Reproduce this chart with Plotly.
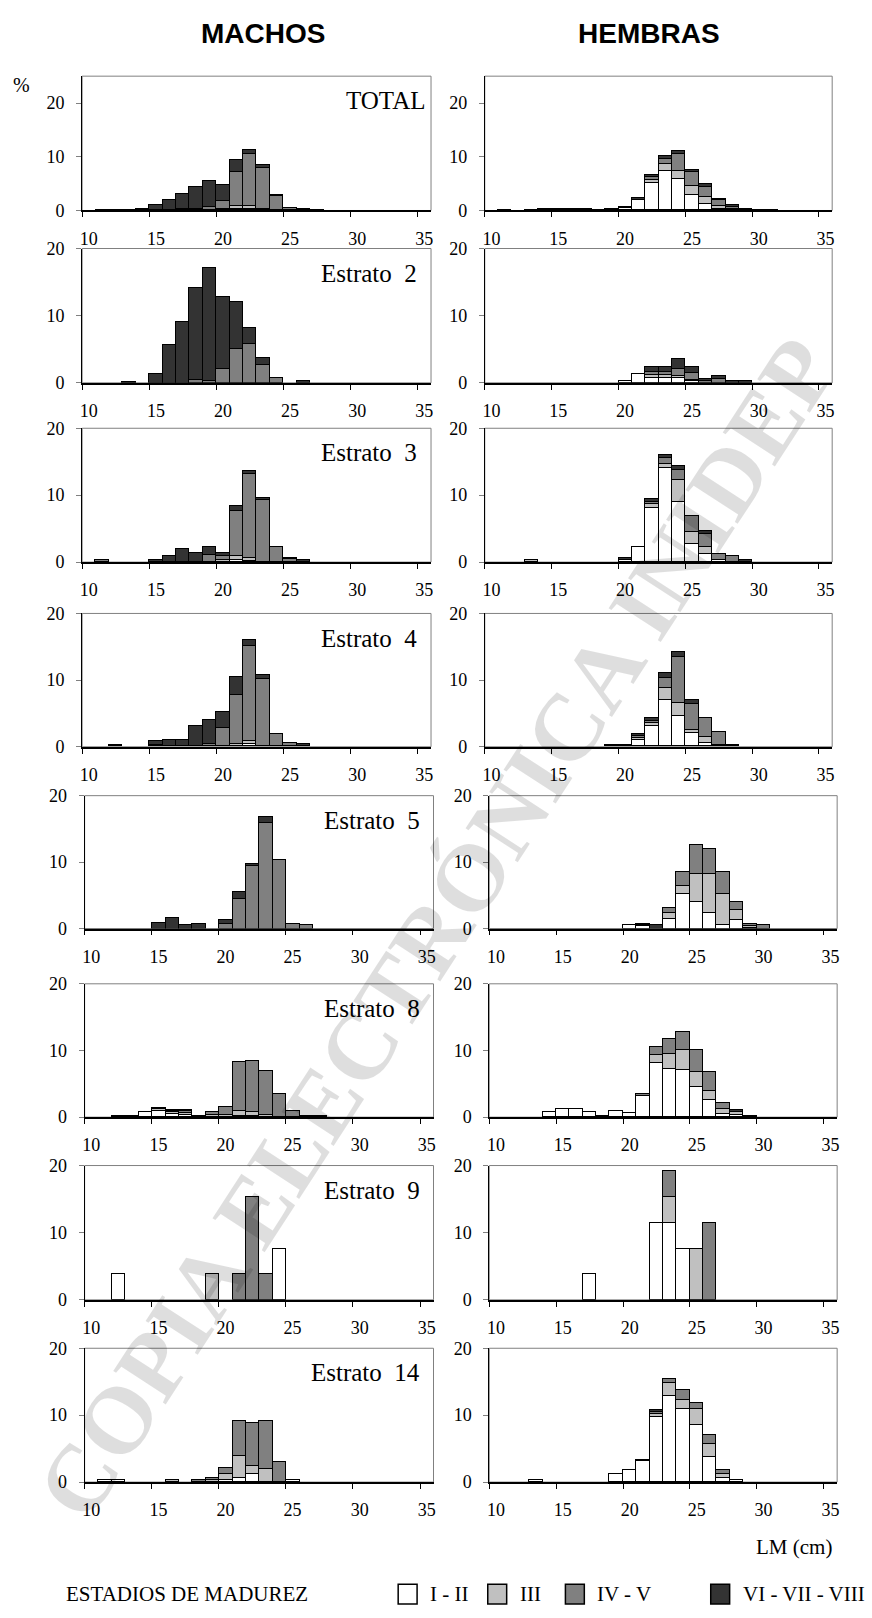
import plotly.graph_objects as go

# ---------------- data ----------------
LM = list(range(10, 36))                      # length classes (cm)
X_TICKS = [10, 15, 20, 25, 30, 35]
X_TICK_MARKS = [9.5, 14.5, 19.5, 24.5, 29.5, 34.5]
Y_TICKS = [0, 10, 20]
STAGES = ["I - II", "III", "IV - V", "VI - VII - VIII"]
COLORS = ["#ffffff", "#c0c0c0", "#808080", "#333333"]
PANEL_LABELS = ["TOTAL", "Estrato\u00a0\u00a02", "Estrato\u00a0\u00a03", "Estrato\u00a0\u00a04",
                "Estrato\u00a0\u00a05", "Estrato\u00a0\u00a08", "Estrato\u00a0\u00a09", "Estrato\u00a0\u00a014"]
Y_MAX = [25, 20, 20, 20, 20, 20, 20, 20]
WATERMARK = "COPIA ELECTRÓNICA INIDEP"

# each panel: [I-II, III, IV-V, VI-VII-VIII], values for LM 10..35
M_TOTAL = [
    [0,0,0,0,0, 0,0,0,0,0, 0.1,0.3,0.3,0.1,0, 0,0,0,0,0, 0,0,0,0,0,0],
    [0,0,0,0,0, 0,0,0,0,0.1, 0.2,0.5,0.5,0.2,0, 0,0,0,0,0, 0,0,0,0,0,0],
    [0,0,0,0,0, 0,0,0.2,0.3,0.5, 1.5,6.3,9.6,7.6,2.7, 0.4,0.2,0,0,0, 0,0,0,0,0,0],
    [0,0.1,0.1,0.1,0.3, 0.9,2.0,2.8,4.0,4.8, 2.9,2.3,0.8,0.6,0.1, 0.1,0.1,0.15,0,0, 0,0,0,0,0,0],
]
F_TOTAL = [
    [0,0,0,0,0.25, 0.25,0.25,0.25,0,0.3, 0.45,1.9,5.06,7.3,5.9, 2.85,1.2,0.3,0.1,0, 0,0,0,0,0,0],
    [0,0.1,0,0,0, 0,0,0,0,0, 0,0,0.55,1.4,1.5, 1.65,1.2,0.5,0.2,0, 0,0,0,0,0,0],
    [0,0,0,0,0, 0,0,0,0,0, 0,0,0.5,0.9,3.0, 2.6,2.0,1.1,0.4,0.1, 0.1,0.1,0,0,0,0],
    [0,0,0,0.15,0, 0,0,0,0.15,0, 0.1,0.4,0.5,0.5,0.65, 0.35,0.5,0.25,0.3,0.2, 0,0,0,0,0,0],
]
M_E2 = [
    [0]*26,
    [0,0,0,0.25,0, 0,0,0,0,0, 0,0,0,0,0, 0,0,0,0,0, 0,0,0,0,0,0],
    [0,0,0,0,0, 0,0,0,0.5,0.3, 2.2,5.05,5.8,2.7,0.85, 0,0,0,0,0, 0,0,0,0,0,0],
    [0,0,0,0,0, 1.4,5.65,9.15,13.7,16.9, 10.7,7.05,2.5,1.1,0, 0,0.3,0,0,0, 0,0,0,0,0,0],
]
F_E2 = [
    [0,0,0,0,0, 0,0,0,0,0, 0.3,1.4,0.85,0.8,0.85, 0.35,0,0,0,0, 0,0,0,0,0,0],
    [0,0,0,0,0, 0,0,0,0,0, 0,0,0.45,0.5,0.3, 0.2,0,0,0,0, 0,0,0,0,0,0],
    [0,0,0,0,0, 0,0,0,0,0, 0,0,0.4,0.4,1.0, 1.05,0.3,0.7,0,0, 0,0,0,0,0,0],
    [0,0,0,0,0, 0,0,0,0,0, 0,0,0.8,0.8,1.45, 0.9,0.3,0.4,0.35,0.35, 0,0,0,0,0,0],
]
M_E3 = [
    [0,0,0,0,0, 0,0,0,0,0, 0,0.2,0.15,0,0, 0,0,0,0,0, 0,0,0,0,0,0],
    [0,0,0,0,0, 0,0,0,0,0, 0.2,0.6,0.4,0,0, 0,0,0,0,0, 0,0,0,0,0,0],
    [0,0.25,0,0,0, 0,0,0,0,1.05, 0.6,6.85,12.65,9.3,2.15, 0.4,0,0,0,0, 0,0,0,0,0,0],
    [0,0,0,0,0, 0.25,0.9,1.9,1.35,1.15, 0.55,0.65,0.4,0.3,0, 0.15,0.25,0,0,0, 0,0,0,0,0,0],
]
F_E3 = [
    [0,0,0,0,0, 0,0,0,0,0, 0.25,2.2,8.0,13.95,9.0, 2.67,1.1,0.2,0,0, 0,0,0,0,0,0],
    [0,0,0,0.25,0, 0,0,0,0,0, 0,0,0.6,0.65,3.3, 1.78,1.1,0,0,0, 0,0,0,0,0,0],
    [0,0,0,0,0, 0,0,0,0,0, 0,0,0.4,0.95,1.46, 2.45,2.0,1.0,0.9,0, 0,0,0,0,0,0],
    [0,0,0,0,0, 0,0,0,0,0, 0.35,0,0.4,0.45,0.59, 0,0.35,0,0,0.25, 0,0,0,0,0,0],
]
M_E4 = [
    [0,0,0,0,0, 0,0,0,0,0, 0,0,0.3,0,0, 0,0,0,0,0, 0,0,0,0,0,0],
    [0,0,0.25,0,0, 0,0,0,0,0, 0,0.3,0.5,0,0, 0,0,0,0,0, 0,0,0,0,0,0],
    [0,0,0,0,0, 0.25,0,0,0,0.3, 2.7,7.4,14.3,10.1,1.9, 0.55,0,0,0,0, 0,0,0,0,0,0],
    [0,0,0,0,0, 0.5,1.0,1.0,3.1,3.7, 2.4,2.7,0.9,0.6,0, 0,0.3,0,0,0, 0,0,0,0,0,0],
]
F_E4 = [
    [0,0,0,0,0, 0,0,0,0,0, 0,1.0,3.1,7.0,4.6, 2.0,0.5,0.2,0,0, 0,0,0,0,0,0],
    [0,0,0,0,0, 0,0,0,0,0.25, 0.25,0.25,0.4,1.75,1.9, 0.45,0.9,0,0,0, 0,0,0,0,0,0],
    [0,0,0,0,0, 0,0,0,0,0, 0,0.25,0.3,1.55,6.95, 3.9,2.9,1.9,0.25,0, 0,0,0,0,0,0],
    [0,0,0,0,0, 0,0,0,0,0, 0,0.4,0.5,0.7,0.75, 0.65,0,0,0,0, 0,0,0,0,0,0],
]
M_E5 = [
    [0]*26,
    [0]*26,
    [0,0,0,0,0, 0,0,0,0,0, 0.7,4.5,9.4,16.0,10.4, 0.8,0.55,0,0,0, 0,0,0,0,0,0],
    [0,0,0,0,0, 0.85,1.65,0.55,0.8,0, 0.65,1.1,0.3,0.9,0, 0,0,0,0,0, 0,0,0,0,0,0],
]
F_E5 = [
    [0,0,0,0,0, 0,0,0,0,0, 0.55,0.5,0,1.55,5.3, 4.0,2.35,0.65,1.4,0.2, 0,0,0,0,0,0],
    [0,0,0,0,0, 0,0,0,0,0, 0,0.1,0,0.8,1.15, 4.3,5.95,4.65,1.5,0.2, 0,0,0,0,0,0],
    [0,0,0,0,0, 0,0,0,0,0, 0,0.2,0,0.85,2.15, 4.35,3.75,3.3,1.1,0.4, 0.55,0,0,0,0,0],
    [0,0,0,0,0, 0,0,0,0,0, 0,0,0.55,0,0, 0,0,0,0,0, 0,0,0,0,0,0],
]
M_E8 = [
    [0,0,0.25,0.25,0.85, 1.0,0.5,0.4,0,0, 0,0.2,0.2,0,0, 0,0,0,0,0, 0,0,0,0,0,0],
    [0,0,0,0,0, 0.2,0.3,0.3,0.25,0.3, 0.3,0.8,0.55,0.3,0, 0,0,0,0,0, 0,0,0,0,0,0],
    [0,0,0,0,0, 0,0.1,0.2,0,0.5, 1.3,7.25,7.75,6.6,3.5, 1.0,0.25,0,0,0, 0,0,0,0,0,0],
    [0,0,0,0,0, 0.15,0.2,0.2,0,0, 0,0,0,0,0, 0,0,0.25,0,0, 0,0,0,0,0,0],
]
F_E8 = [
    [0,0,0,0,0.8, 1.25,1.25,0.8,0.25,1.0, 0.6,3.15,8.15,7.25,7.15, 4.55,2.6,0.5,0.3,0, 0,0,0,0,0,0],
    [0,0,0,0,0, 0,0,0,0,0, 0,0,1.15,2.25,3.0, 2.3,1.35,0.75,0.45,0, 0,0,0,0,0,0],
    [0,0,0,0,0, 0,0,0,0,0, 0,0.3,1.25,2.3,2.65, 3.3,2.9,0.9,0,0, 0,0,0,0,0,0],
    [0,0,0,0,0, 0,0,0,0,0, 0,0,0,0,0, 0,0,0,0.35,0.25, 0,0,0,0,0,0],
]
M_E9 = [
    [0,0,3.85,0,0, 0,0,0,0,0, 0,0,0,0,7.7, 0,0,0,0,0, 0,0,0,0,0,0],
    [0,0,0,0,0, 0,0,0,0,3.85, 0,0,0,0,0, 0,0,0,0,0, 0,0,0,0,0,0],
    [0,0,0,0,0, 0,0,0,0,0, 0,3.85,15.4,3.85,0, 0,0,0,0,0, 0,0,0,0,0,0],
    [0]*26,
]
F_E9 = [
    [0,0,0,0,0, 0,0,3.85,0,0, 0,0,11.55,11.55,7.7, 0,0,0,0,0, 0,0,0,0,0,0],
    [0,0,0,0,0, 0,0,0,0,0, 0,0,0,3.85,0, 7.7,0,0,0,0, 0,0,0,0,0,0],
    [0,0,0,0,0, 0,0,0,0,0, 0,0,0,3.85,0, 0,11.55,0,0,0, 0,0,0,0,0,0],
    [0]*26,
]
M_E14 = [
    [0,0.3,0.3,0,0, 0,0,0,0,0, 0.3,0.6,1.1,0,0, 0.3,0,0,0,0, 0,0,0,0,0,0],
    [0,0,0,0,0, 0,0.3,0,0,0.3, 0.8,3.2,1.3,1.95,0, 0,0,0,0,0, 0,0,0,0,0,0],
    [0,0,0,0,0, 0,0,0,0.3,0.3, 0.9,5.35,6.4,7.1,3.0, 0,0,0,0,0, 0,0,0,0,0,0],
    [0]*26,
]
F_E14 = [
    [0,0,0,0.3,0, 0,0,0,0,1.1, 1.7,3.05,9.7,12.9,10.9, 8.5,3.75,0.6,0.3,0, 0,0,0,0,0,0],
    [0,0,0,0,0, 0,0,0,0,0, 0,0,0.5,1.8,1.4, 2.45,1.85,0.5,0,0, 0,0,0,0,0,0],
    [0,0,0,0,0, 0,0,0,0,0, 0,0.15,0.25,0.6,1.4, 0.9,1.4,0.6,0,0, 0,0,0,0,0,0],
    [0,0,0,0,0, 0,0,0,0,0, 0,0,0.3,0,0, 0,0,0,0,0, 0,0,0,0,0,0],
]

MACHOS = [M_TOTAL, M_E2, M_E3, M_E4, M_E5, M_E8, M_E9, M_E14]
HEMBRAS = [F_TOTAL, F_E2, F_E3, F_E4, F_E5, F_E8, F_E9, F_E14]

# ---------------- layout (pixels) ----------------
W, H = 872, 1618
ROWS = [(67, 203), (241.5, 377.5), (423.5, 559), (611, 746),
        (795.5, 930), (986, 1121), (1170, 1306), (1355, 1490.5)]
LEFT_X = [(80.5, 431)] * 4 + [(83, 433.5)] * 4
RIGHT_X = [(485, 834)] * 4 + [(489.5, 839)] * 4

SERIF = "Liberation Serif"
fig = go.Figure()
layout = {}
annotations = []
shapes = []

n = 0
for r in range(8):
    top, bot = ROWS[r]
    for c, (panel, xs) in enumerate([(MACHOS[r], LEFT_X[r]), (HEMBRAS[r], RIGHT_X[r])]):
        n += 1
        xa = "x" if n == 1 else f"x{n}"
        ya = "y" if n == 1 else f"y{n}"
        for s in range(4):
            vals = [v if v > 0 else None for v in panel[s]]
            fig.add_trace(go.Bar(
                x=LM, y=vals, xaxis=xa, yaxis=ya, width=1, name=STAGES[s],
                marker=dict(color=COLORS[s], line=dict(color="black", width=1)),
                showlegend=False, hoverinfo="x+y+name"))
        xkey = "xaxis" if n == 1 else f"xaxis{n}"
        ykey = "yaxis" if n == 1 else f"yaxis{n}"
        layout[xkey] = dict(
            domain=[xs[0] / W, xs[1] / W], anchor=ya, range=[9.5, 35.5],
            tickmode="array", tickvals=X_TICKS, ticks="outside", ticklen=5,
            tickcolor="rgba(0,0,0,0)", ticklabelstandoff=6,
            minor=dict(tickmode="array", tickvals=X_TICK_MARKS, ticks="outside",
                       ticklen=5, tickcolor="black", tickwidth=1),
            showline=True, linecolor="black", linewidth=1.5,
            showgrid=False, zeroline=False,
            tickfont=dict(family=SERIF, size=18, color="black"))
        layout[ykey] = dict(
            domain=[1 - bot / H, 1 - top / H], anchor=xa, range=[0, Y_MAX[r]],
            tickmode="array", tickvals=Y_TICKS, ticks="outside", ticklen=5,
            tickcolor="#808080", ticklabelstandoff=8,
            showline=True, linecolor="black", linewidth=1,
            showgrid=False, zeroline=False,
            tickfont=dict(family=SERIF, size=18, color="black"))
        shapes.append(dict(type="rect", xref=f"{xa} domain", yref=f"{ya} domain",
                           x0=0, x1=1, y0=0, y1=1, layer="below",
                           line=dict(color="#808080", width=1)))
        if c == 0:
            rx = (xs[1] - (4 if r == 0 else 12)) / W
            annotations.append(dict(text=PANEL_LABELS[r], x=rx, y=1 - (top + 25) / H,
                                    xref="paper", yref="paper", xanchor="right", yanchor="middle",
                                    showarrow=False, font=dict(family=SERIF, size=25, color="black")))

# titles
annotations += [
    dict(text="<b>MACHOS</b>", x=262 / W, y=1 - 24 / H, xref="paper", yref="paper",
         xanchor="center", yanchor="middle", showarrow=False,
         font=dict(family="Liberation Sans", size=28, color="black")),
    dict(text="<b>HEMBRAS</b>", x=650 / W, y=1 - 24 / H, xref="paper", yref="paper",
         xanchor="center", yanchor="middle", showarrow=False,
         font=dict(family="Liberation Sans", size=28, color="black")),
    dict(text="%", x=20 / W, y=1 - 76 / H, xref="paper", yref="paper",
         xanchor="center", yanchor="middle", showarrow=False,
         font=dict(family=SERIF, size=20, color="black")),
    dict(text="LM (cm)", x=836 / W, y=1 - 1556 / H, xref="paper", yref="paper",
         xanchor="right", yanchor="middle", showarrow=False,
         font=dict(family=SERIF, size=21, color="black")),
]

# legend (drawn manually)
LEG_Y = 1604
annotations.append(dict(text="ESTADIOS DE MADUREZ", x=62 / W, y=1 - LEG_Y / H, xref="paper",
                        yref="paper", xanchor="left", yanchor="middle", showarrow=False,
                        font=dict(family=SERIF, size=21, color="black")))
BOX_X = [398, 488, 566, 712]
for s in range(4):
    bx = BOX_X[s]
    shapes.append(dict(type="rect", xref="paper", yref="paper",
                       x0=bx / W, x1=(bx + 19) / W, y0=1 - (LEG_Y + 10) / H, y1=1 - (LEG_Y - 10) / H,
                       fillcolor=COLORS[s], line=dict(color="black", width=1.5)))
    annotations.append(dict(text=STAGES[s], x=(bx + 30) / W, y=1 - LEG_Y / H, xref="paper",
                            yref="paper", xanchor="left", yanchor="middle", showarrow=False,
                            font=dict(family=SERIF, size=21, color="black")))

# watermark (semi-transparent, diagonal)
annotations.append(dict(text="<b>" + WATERMARK + "</b>", x=436 / W, y=1 - 930 / H,
                        xref="paper", yref="paper", xanchor="center", yanchor="middle",
                        textangle=-57, showarrow=False,
                        font=dict(family=SERIF, size=95, color="rgba(0,0,0,0.13)")))

fig.update_layout(
    width=W, height=H, margin=dict(l=0, r=0, t=0, b=0),
    paper_bgcolor="white", plot_bgcolor="white",
    barmode="stack", bargap=0, showlegend=False,
    annotations=annotations, shapes=shapes, **layout)

fig.write_html("out.html")
